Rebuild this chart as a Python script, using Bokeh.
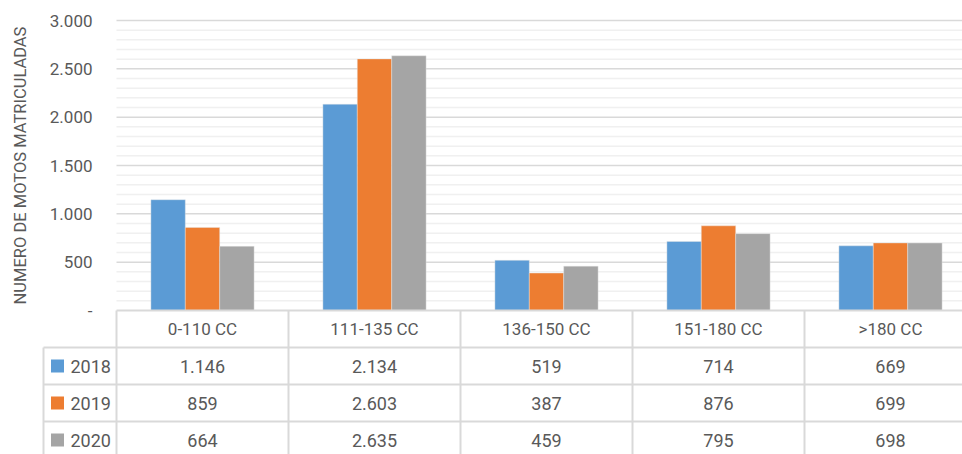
import math
from bokeh.plotting import figure
from bokeh.models import ColumnDataSource, Range1d
from bokeh.transform import dodge
from bokeh.core.properties import value
from bokeh.embed import file_html
from bokeh.resources import INLINE

categories = ["0-110 CC", "111-135 CC", "136-150 CC", "151-180 CC", ">180 CC"]
years = ["2018", "2019", "2020"]
v2018 = [1146, 2134, 519, 714, 669]
v2019 = [859, 2603, 387, 876, 699]
v2020 = [664, 2635, 459, 795, 698]
y_ticks = [0, 500, 1000, 1500, 2000, 2500, 3000]
y_tick_labels = ["-", "500", "1.000", "1.500", "2.000", "2.500", "3.000"]
y_minor_step = 100
y_title = "NUMERO DE MOTOS MATRICULADAS"

colors = ["#5b9bd5", "#ed7d31", "#a5a5a5"]
series = [v2018, v2019, v2020]
FONT = "Roboto"
TXT = "#595959"
LINE = "#d9d9d9"
MINOR = "#f0f0f0"

def fmt(n):
    return f"{n:,}".replace(",", ".")

W, H = 962, 454
col_px = 172.0            # width of one category column in pixels
left_px = 116             # left edge of plot area / table body
zero_px = 310             # pixel row of value 0
top_px = 20               # pixel row of value 3000
row_px = 37.0             # table row height

x_start = -left_px / col_px
x_end = (W - left_px) / col_px
k = (y_ticks[-1] - y_ticks[0]) / (zero_px - top_px)
y_start = -(H - zero_px) * k
y_end = y_ticks[-1] + top_px * k

p = figure(width=W, height=H, output_backend="svg", toolbar_location=None,
           x_range=Range1d(x_start, x_end), y_range=Range1d(y_start, y_end),
           min_border=0, min_border_left=0, min_border_right=0,
           min_border_top=0, min_border_bottom=0)
p.extra_y_ranges = {"table": Range1d(-(H - zero_px) / row_px, zero_px / row_px)}
p.outline_line_color = None
p.axis.visible = False
p.grid.visible = False

xs = [i + 0.5 for i in range(len(categories))]
n = len(categories)

# gridlines (minor then major), starting at the plot area's left edge
minor = [v for v in range(y_ticks[0], y_ticks[-1] + 1, y_minor_step) if v not in y_ticks]
p.segment(x0=[0] * len(minor), x1=[x_end] * len(minor), y0=minor, y1=minor,
          line_color=MINOR, line_width=1.5)
major = y_ticks[1:]
p.segment(x0=[0] * len(major), x1=[x_end] * len(major), y0=major, y1=major,
          line_color=LINE, line_width=1.5)

# tick labels and axis title
p.text(x=[x_start + 92 / col_px] * len(y_ticks), y=y_ticks, text=y_tick_labels,
       text_align="right", text_baseline="middle", text_font=value(FONT),
       text_font_size="17px", text_color=TXT)
p.text(x=[x_start + 20 / col_px], y=[(y_ticks[0] + y_ticks[-1]) / 2], text=[y_title],
       angle=math.pi / 2, text_align="center", text_baseline="middle",
       text_font=value(FONT), text_font_size="16.5px", text_color=TXT)

# bars
src = ColumnDataSource(dict(x=xs, y2018=v2018, y2019=v2019, y2020=v2020))
offsets = [-0.2, 0.0, 0.2]
for key, off, c in zip(["y2018", "y2019", "y2020"], offsets, colors):
    p.vbar(x=dodge("x", off, range=p.x_range), top=key, bottom=0, width=0.2, source=src,
           fill_color=c, line_color="#e6e6e6", line_width=0.6, line_alpha=0.7)

# ---- data table ----
T = "table"
ty_bottom = -(H - zero_px) / row_px
legend_left = x_start + 43 / col_px
p.segment(x0=[0], y0=[0], x1=[x_end], y1=[0], line_color=LINE, line_width=2, y_range_name=T)
for r in range(1, len(years) + 1):
    p.segment(x0=[legend_left], y0=[-r], x1=[x_end], y1=[-r], line_color=LINE,
              line_width=2, y_range_name=T)
for i in range(n + 1):
    p.segment(x0=[i], y0=[0], x1=[i], y1=[ty_bottom], line_color=LINE, line_width=2,
              y_range_name=T)
p.segment(x0=[legend_left], y0=[-1], x1=[legend_left], y1=[ty_bottom], line_color=LINE,
          line_width=2, y_range_name=T)

p.text(x=xs, y=[-0.5] * n, text=categories, text_align="center", text_baseline="middle",
       text_font=value(FONT), text_font_size="17px", text_color=TXT, y_range_name=T)
for r, (vals, c, yr) in enumerate(zip(series, colors, years)):
    yy = -(r + 1.5)
    p.text(x=xs, y=[yy] * n, text=[fmt(v) for v in vals], text_align="center",
           text_baseline="middle", text_font=value(FONT), text_font_size="18px",
           text_color=TXT, y_range_name=T)
    p.scatter(x=[x_start + 57 / col_px], y=[yy], marker="square", size=13,
              fill_color=c, line_color=None, y_range_name=T)
    p.text(x=[x_start + 70 / col_px], y=[yy], text=[yr], text_align="left",
           text_baseline="middle", text_font=value(FONT), text_font_size="18px",
           text_color=TXT, y_range_name=T)

open("out.html", "w").write(file_html(p, INLINE))
